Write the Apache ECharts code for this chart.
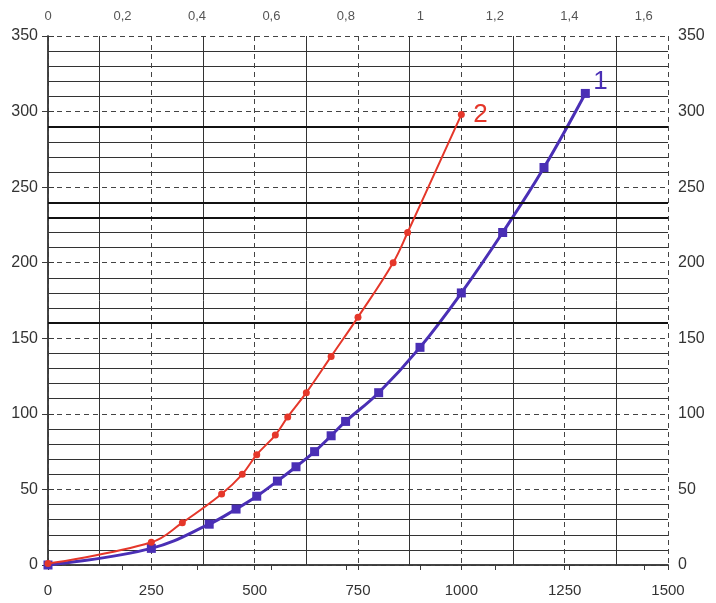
<!DOCTYPE html>
<html><head><meta charset="utf-8">
<script src="https://cdn.jsdelivr.net/npm/echarts@6/dist/echarts.min.js"></script>
<style>html,body{margin:0;padding:0;background:#fff}#c{width:716px;height:603px}</style>
</head><body><div id="c"></div>
<script>
// Series 1 (blue, squares)
const s1X = [0, 250, 390, 455, 505, 555, 600, 645, 685, 720, 800, 900, 1000, 1100, 1200, 1300];
const s1Y = [0, 11, 27, 37, 45.5, 55.5, 65, 75, 85.5, 95, 114, 144, 180, 220, 263, 312];
// Series 2 (red, circles)
const s2X = [0, 250, 325, 420, 470, 505, 550, 580, 625, 685, 750, 835, 870, 1000];
const s2Y = [1, 15, 28, 47, 60, 73, 86, 98, 114, 138, 164, 200, 220, 298];
// Axes
const bottomTicks = [0, 250, 500, 750, 1000, 1250, 1500];
const topTicks = [0, 0.2, 0.4, 0.6, 0.8, 1, 1.2, 1.4, 1.6];
const yTicks = [0, 50, 100, 150, 200, 250, 300, 350];
const thickLines = [160, 230, 240, 290];
const seriesNames = ['1', '2'];

const BLUE = '#4a2fb5', RED = '#e5372a', INK = '#3a3a3a';
const FONT = 'Liberation Sans, Arial, sans-serif';
const pair = (xs, ys) => xs.map((x, i) => [x, ys[i]]);

const chart = echarts.init(document.getElementById('c'), null, {renderer: 'canvas'});
chart.setOption({
  animation: false,
  grid: {left: 48, right: 48, top: 36, bottom: 38},
  xAxis: [{
    type: 'value', min: bottomTicks[0], max: bottomTicks[bottomTicks.length - 1], interval: 250,
    position: 'bottom',
    axisLine: {show: true, lineStyle: {color: INK, width: 1.5}},
    axisTick: {show: true, length: 5, lineStyle: {color: INK}},
    axisLabel: {fontSize: 15, margin: 18, color: '#333', fontFamily: FONT, formatter: v => String(v)},
    splitLine: {show: true, lineStyle: {color: '#444', type: [5, 4], width: 1}},
    minorTick: {show: false, splitNumber: 2},
    minorSplitLine: {show: true, lineStyle: {color: '#333', width: 1}}
  }, {
    type: 'value', min: 0, max: 1.665, interval: 0.2, position: 'top',
    axisLine: {show: true, lineStyle: {color: INK, width: 1.5}},
    axisTick: {show: true, length: 5, inside: true, lineStyle: {color: INK}},
    axisLabel: {fontSize: 13, margin: 13, color: '#555', fontFamily: FONT, showMaxLabel: false,
      formatter: v => topTicks.some(t => Math.abs(t - v) < 1e-6) ? String(Math.round(v * 10) / 10).replace('.', ',') : ''},
    splitLine: {show: false}
  }],
  yAxis: [{
    type: 'value', min: yTicks[0], max: yTicks[yTicks.length - 1], interval: 50,
    axisLine: {show: true, lineStyle: {color: INK, width: 1.5}},
    axisTick: {show: true, length: 6, lineStyle: {color: INK}},
    axisLabel: {fontSize: 16, margin: 10, color: '#333', fontFamily: FONT},
    splitLine: {show: true, lineStyle: {color: '#444', type: [5, 4], width: 1}},
    minorTick: {show: false, splitNumber: 5},
    minorSplitLine: {show: true, lineStyle: {color: '#333', width: 1}}
  }, {
    type: 'value', min: yTicks[0], max: yTicks[yTicks.length - 1], interval: 50, position: 'right',
    axisLine: {show: true, lineStyle: {color: INK, width: 1.5}},
    axisTick: {show: true, length: 6, lineStyle: {color: INK}},
    axisLabel: {fontSize: 16, margin: 10, color: '#333', fontFamily: FONT},
    splitLine: {show: false}
  }],
  series: [{
    name: seriesNames[0], type: 'line', xAxisIndex: 0, yAxisIndex: 0,
    data: pair(s1X, s1Y), smooth: 0.4,
    symbol: 'rect', symbolSize: 9, itemStyle: {color: BLUE},
    lineStyle: {color: BLUE, width: 3},
    endLabel: {show: true, formatter: seriesNames[0], color: BLUE, fontSize: 26,
      fontFamily: FONT, offset: [0, -12]},
    z: 4,
    markLine: {
      silent: true, symbol: 'none', label: {show: false},
      lineStyle: {color: '#111', width: 2, type: 'solid'},
      data: thickLines.map(v => ({yAxis: v}))
    }
  }, {
    name: seriesNames[1], type: 'line', xAxisIndex: 0, yAxisIndex: 0,
    data: pair(s2X, s2Y), smooth: 0.4,
    symbol: 'circle', symbolSize: 7, itemStyle: {color: RED},
    lineStyle: {color: RED, width: 2},
    endLabel: {show: true, formatter: seriesNames[1], color: RED, fontSize: 26,
      fontFamily: FONT, offset: [4, 0]},
    z: 5
  }]
});
</script></body></html>
